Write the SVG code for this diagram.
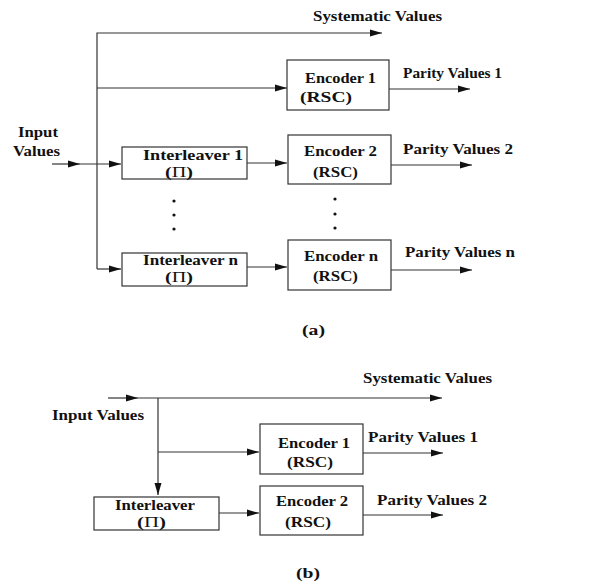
<svg xmlns="http://www.w3.org/2000/svg" width="614" height="588" viewBox="0 0 614 588">
  <defs>
    <marker id="arr" markerUnits="userSpaceOnUse" markerWidth="14" markerHeight="10" refX="12" refY="4" orient="auto">
      <path d="M0,0.5 L12,4 L0,7.5 Z" fill="#111"/>
    </marker>
    <style>
      .box { fill: #fff; stroke: #333; stroke-width: 1.2; }
      .ln { fill: none; stroke: #333; stroke-width: 1.2; }
      .ar { fill: none; stroke: #333; stroke-width: 1.2; marker-end: url(#arr); }
      text { font-family: "Liberation Serif", "Times New Roman", serif; font-weight: bold; font-size: 15.5px; fill: #111; }
      .pi { font-weight: normal; }
      .dot { fill: #111; }
    </style>
  </defs>
  <rect width="614" height="588" fill="#fff"/>

  <!-- (a) parallel concatenated encoder with n interleavers -->
  <g id="a-connectors">
    <path class="ar" d="M97,269 L97,33 L382,33"/>
    <path class="ar" d="M97,88 L287,88"/>
    <path class="ar" d="M52,164 L80,164"/>
    <path class="ar" d="M80,164 L121,164"/>
    <path class="ar" d="M97,269 L121,269"/>
    <path class="ar" d="M247,163 L287,163"/>
    <path class="ar" d="M247,267 L287,267"/>
    <path class="ar" d="M389,89 L470,89"/>
    <path class="ar" d="M391,165 L472,165"/>
    <path class="ar" d="M391,270 L472,270"/>
  </g>
  <g id="a-systematic"><text x="313" y="21" textLength="129" lengthAdjust="spacingAndGlyphs">Systematic Values</text></g>
  <g id="a-input">
    <text x="18" y="137" textLength="40" lengthAdjust="spacingAndGlyphs">Input</text>
    <text x="13" y="156" textLength="47" lengthAdjust="spacingAndGlyphs">Values</text>
  </g>
  <g id="a-encoder1">
    <rect class="box" x="287" y="60" width="102" height="50"/>
    <text x="305" y="83" textLength="71" lengthAdjust="spacingAndGlyphs">Encoder 1</text>
    <text x="300" y="102" textLength="52" lengthAdjust="spacingAndGlyphs">(RSC)</text>
  </g>
  <g id="a-parity1"><text x="403" y="78" textLength="99" lengthAdjust="spacingAndGlyphs">Parity Values 1</text></g>
  <g id="a-interleaver1">
    <rect class="box" x="122" y="147" width="125" height="32"/>
    <text x="143" y="160" textLength="100" lengthAdjust="spacingAndGlyphs">Interleaver 1</text>
    <text x="165" y="177" textLength="28" lengthAdjust="spacingAndGlyphs">(<tspan class="pi">Π</tspan>)</text>
  </g>
  <g id="a-encoder2">
    <rect class="box" x="288" y="135" width="103" height="49"/>
    <text x="304" y="156" textLength="73" lengthAdjust="spacingAndGlyphs">Encoder 2</text>
    <text x="313" y="177" textLength="45" lengthAdjust="spacingAndGlyphs">(RSC)</text>
  </g>
  <g id="a-parity2"><text x="403" y="154" textLength="110" lengthAdjust="spacingAndGlyphs">Parity Values 2</text></g>
  <g id="a-dots">
    <circle class="dot" cx="174" cy="201" r="1.6"/>
    <circle class="dot" cx="174" cy="215" r="1.6"/>
    <circle class="dot" cx="174" cy="229" r="1.6"/>
    <circle class="dot" cx="335" cy="199" r="1.6"/>
    <circle class="dot" cx="335" cy="214" r="1.6"/>
    <circle class="dot" cx="335" cy="228" r="1.6"/>
  </g>
  <g id="a-interleavern">
    <rect class="box" x="122" y="253" width="125" height="33"/>
    <text x="143" y="265" textLength="95" lengthAdjust="spacingAndGlyphs">Interleaver n</text>
    <text x="165" y="282" textLength="28" lengthAdjust="spacingAndGlyphs">(<tspan class="pi">Π</tspan>)</text>
  </g>
  <g id="a-encodern">
    <rect class="box" x="288" y="240" width="103" height="50"/>
    <text x="304" y="261" textLength="74" lengthAdjust="spacingAndGlyphs">Encoder n</text>
    <text x="313" y="281" textLength="45" lengthAdjust="spacingAndGlyphs">(RSC)</text>
  </g>
  <g id="a-parityn"><text x="405" y="257" textLength="110" lengthAdjust="spacingAndGlyphs">Parity Values n</text></g>
  <g id="a-caption"><text x="302" y="335" textLength="23" lengthAdjust="spacingAndGlyphs">(a)</text></g>

  <!-- (b) two-component turbo encoder -->
  <g id="b-connectors">
    <path class="ar" d="M108,398 L138,398"/>
    <path class="ar" d="M138,398 L442,398"/>
    <path class="ar" d="M158,398 L158,495"/>
    <path class="ar" d="M158,452 L259,452"/>
    <path class="ar" d="M219,513 L259,513"/>
    <path class="ar" d="M363,453 L443,453"/>
    <path class="ar" d="M363,515 L443,515"/>
  </g>
  <g id="b-systematic"><text x="363" y="383" textLength="129" lengthAdjust="spacingAndGlyphs">Systematic Values</text></g>
  <g id="b-input"><text x="52" y="420" textLength="92" lengthAdjust="spacingAndGlyphs">Input Values</text></g>
  <g id="b-encoder1">
    <rect class="box" x="260" y="424" width="103" height="50"/>
    <text x="278" y="448" textLength="72" lengthAdjust="spacingAndGlyphs">Encoder 1</text>
    <text x="287" y="467" textLength="46" lengthAdjust="spacingAndGlyphs">(RSC)</text>
  </g>
  <g id="b-parity1"><text x="368" y="442" textLength="110" lengthAdjust="spacingAndGlyphs">Parity Values 1</text></g>
  <g id="b-interleaver">
    <rect class="box" x="94" y="497" width="125" height="33"/>
    <text x="115" y="510" textLength="80" lengthAdjust="spacingAndGlyphs">Interleaver</text>
    <text x="137" y="527" textLength="29" lengthAdjust="spacingAndGlyphs">(<tspan class="pi">Π</tspan>)</text>
  </g>
  <g id="b-encoder2">
    <rect class="box" x="260" y="486" width="103" height="49"/>
    <text x="276" y="506" textLength="72" lengthAdjust="spacingAndGlyphs">Encoder 2</text>
    <text x="285" y="527" textLength="46" lengthAdjust="spacingAndGlyphs">(RSC)</text>
  </g>
  <g id="b-parity2"><text x="377" y="505" textLength="110" lengthAdjust="spacingAndGlyphs">Parity Values 2</text></g>
  <g id="b-caption"><text x="296" y="578" textLength="24" lengthAdjust="spacingAndGlyphs">(b)</text></g>
</svg>
